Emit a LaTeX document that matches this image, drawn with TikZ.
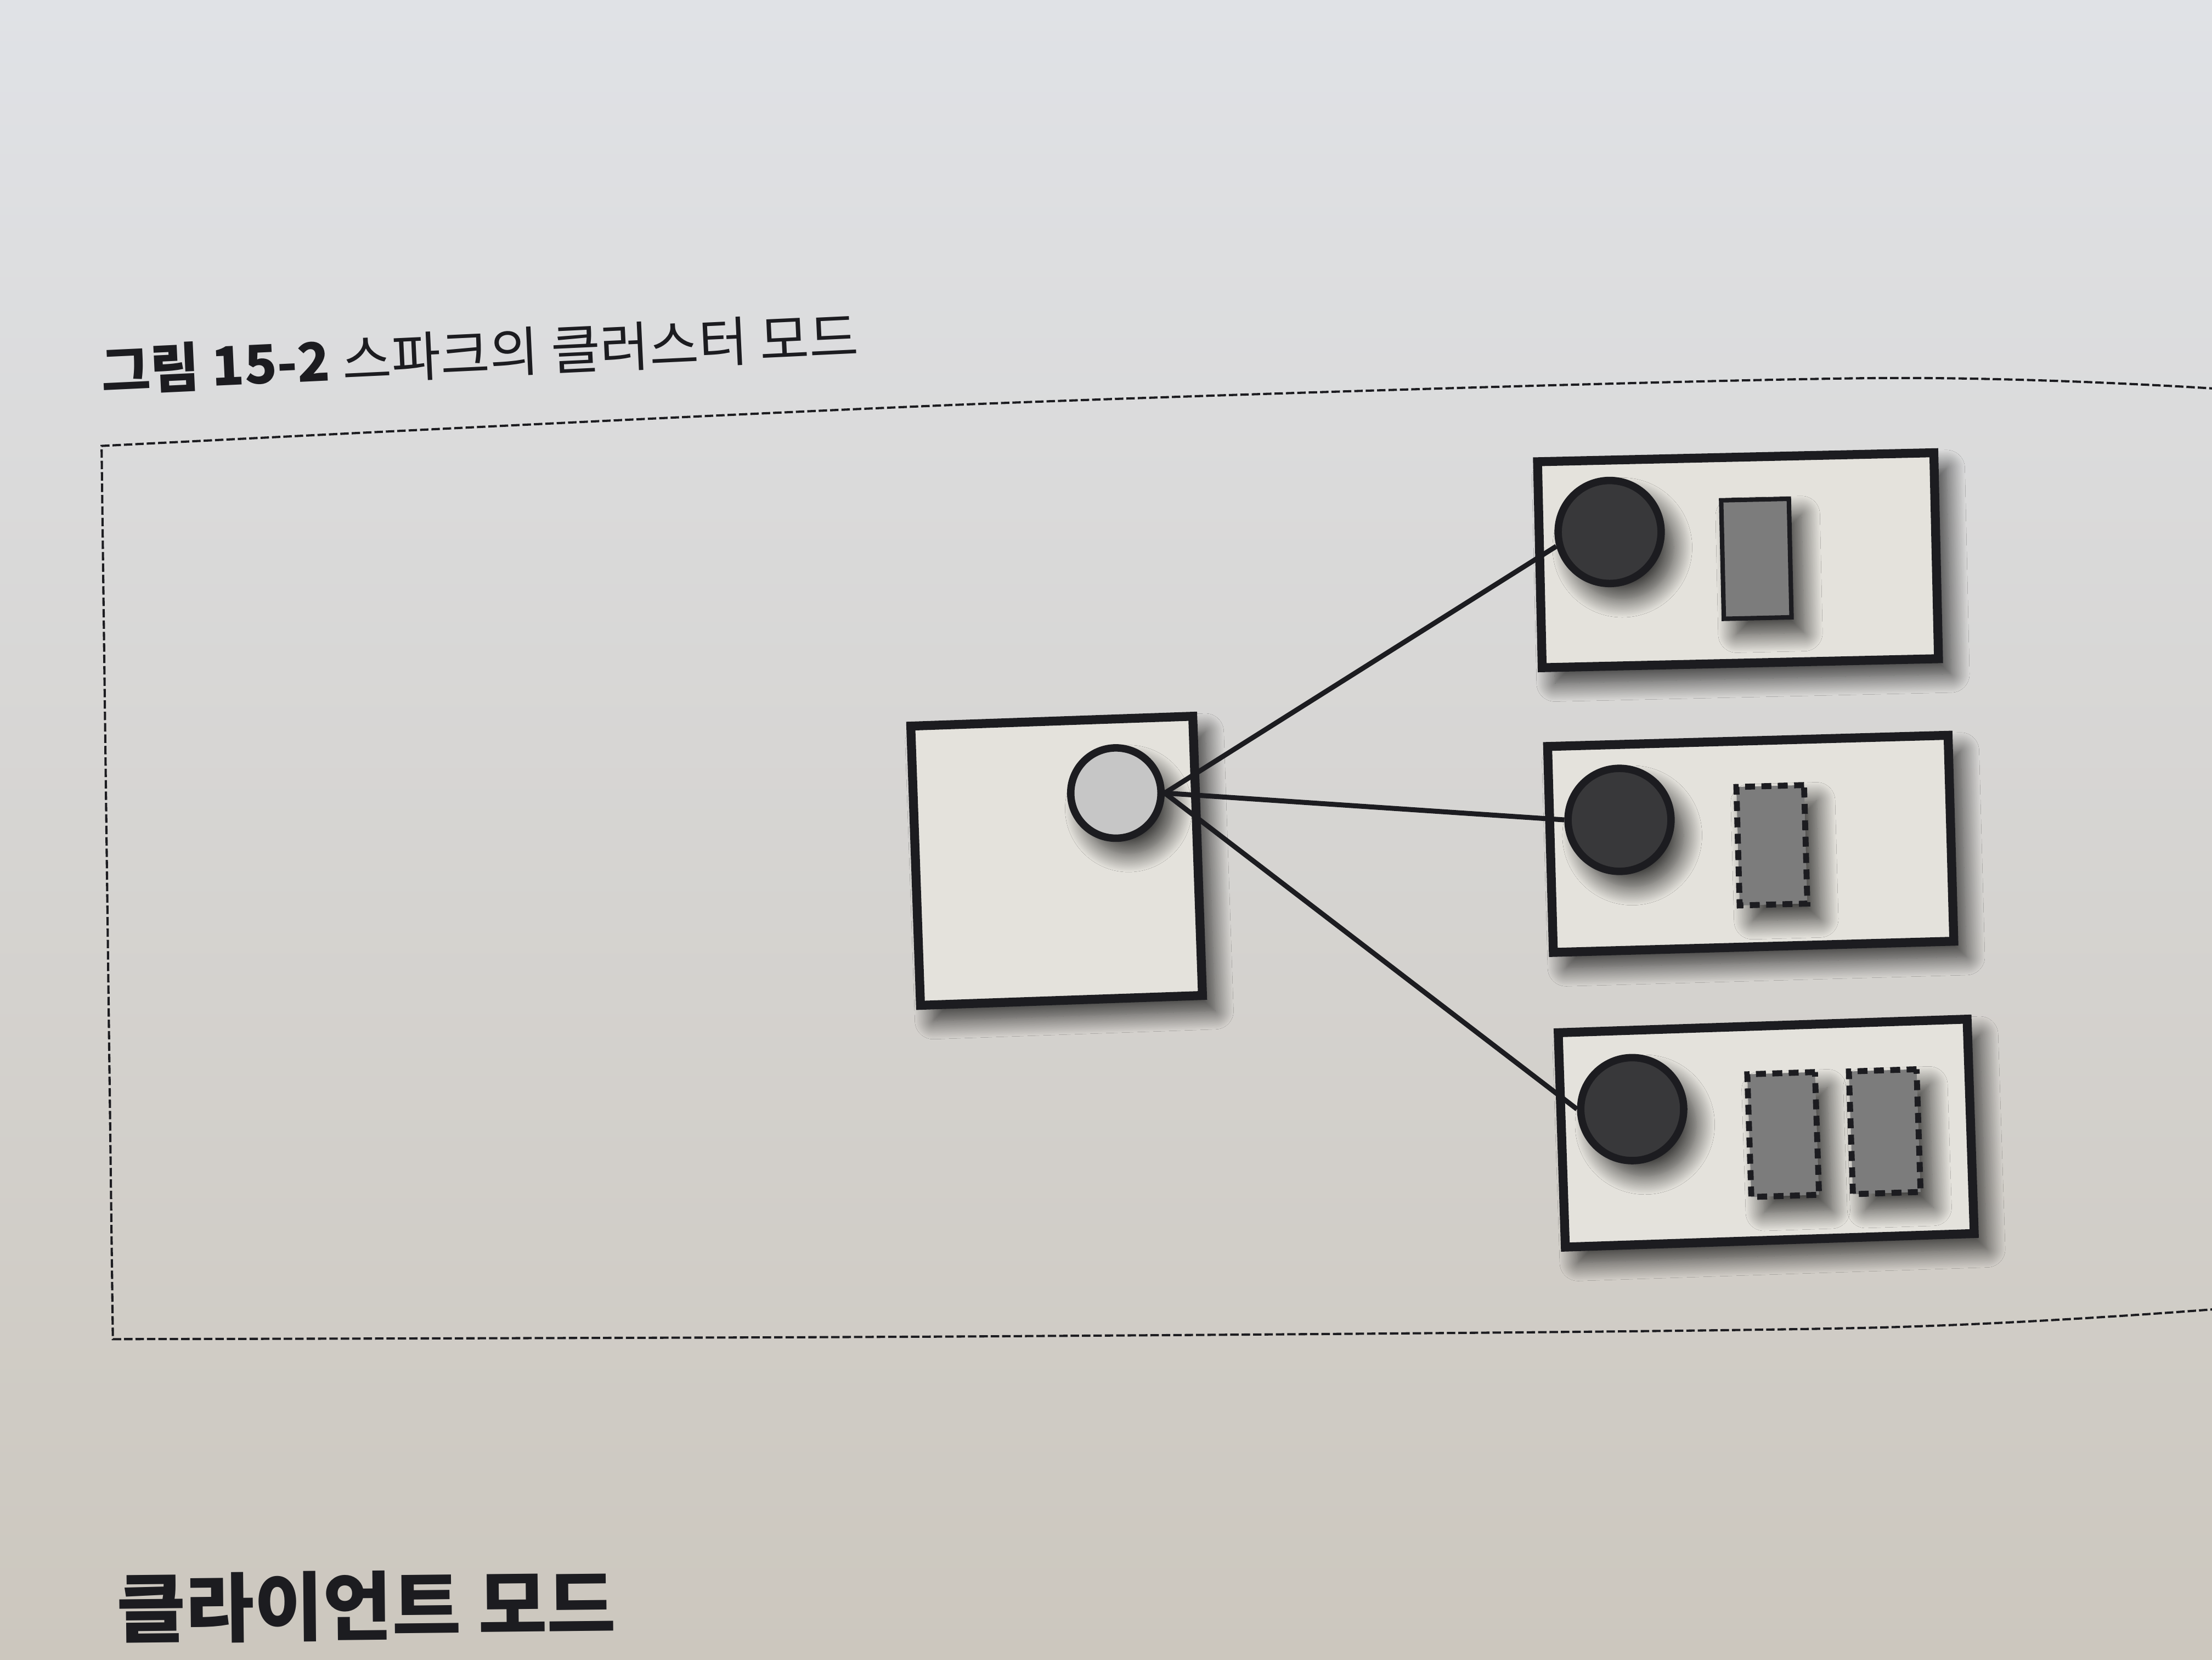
\documentclass[tikz,border=0pt]{standalone}
\usepackage{fontspec}
\newfontfamily\krfont{Noto Sans CJK KR}
\usetikzlibrary{shadows.blur}
\definecolor{paperTop}{HTML}{E0E2E6}
\definecolor{paperBot}{HTML}{CCC7BE}
\definecolor{ink}{HTML}{1C1C20}
\definecolor{boxfill}{HTML}{E4E2DC}
\definecolor{execfill}{HTML}{38383A}
\definecolor{drvfill}{HTML}{C6C6C6}
\definecolor{taskfill}{HTML}{7C7C7C}
\begin{document}
\begin{tikzpicture}[x=0.1mm, y=-0.1mm,
		soft/.style={blur shadow={shadow xshift=0.9mm, shadow yshift=-1.1mm, shadow blur radius=1.3mm, shadow blur steps=24, shadow opacity=75}},
		machine/.style={draw=ink, line width=1.8pt, fill=boxfill, inner sep=0, soft},
		executor/.style={circle, draw=ink, line width=1.5pt, fill=execfill, inner sep=0, minimum size=7.3mm, soft},
		task/.style={draw=ink, line width=0.9pt, fill=taskfill, inner sep=0, minimum width=4.8mm, minimum height=8.4mm, soft},
		dtask/.style={task, line width=1.2pt, dash pattern=on 2pt off 1.3pt},
		link/.style={draw=ink, line width=1pt},
		caption/.style={anchor=west, inner sep=0, text=ink}]
	\useasboundingbox (0,0) rectangle (1568,1176);
	\fill[top color=paperTop, bottom color=paperBot] (0,0) rectangle (1568,1176);
	\node[caption, rotate=2.7, font=\krfont\fontsize{10.8pt}{12pt}\selectfont] (fig) at (71,263) {\bfseries 그림 15-2 \mdseries 스파크의 클러스터 모드};
	\draw[ink, line width=0.45pt, dash pattern=on 1.7pt off 0.6pt] plot[smooth] coordinates {(1580,276) (1322,268) (700,286) (72,316)} -- (80,949) -- plot[smooth] coordinates {(80,949) (700,947) (1322,941) (1580,927)};
	\node[machine, minimum width=20mm, minimum height=19.8mm, rotate=2] (drvbox) at (749,610) {};
	\node[machine, minimum width=28.1mm, minimum height=14.6mm, rotate=1.3] (box1) at (1232,397) {};
	\node[machine, minimum width=28.4mm, minimum height=14.6mm, rotate=1.6] (box2) at (1241,598) {};
	\node[machine, minimum width=29mm, minimum height=15.2mm, rotate=1.9] (box3) at (1252,803) {};
	\node[executor, fill=drvfill, minimum size=6.4mm] (drv) at (791,562) {};
	\node[executor] (w1) at (1141,377) {};
	\node[executor] (w2) at (1148,581) {};
	\node[executor] (w3) at (1157,786) {};
	\node[task, rotate=1.3] (t1) at (1245,396) {};
	\node[dtask, rotate=1.6] (t2) at (1256,599) {};
	\node[dtask, rotate=1.9, minimum height=8.7mm] (t3) at (1264,804) {};
	\node[dtask, rotate=1.9, minimum height=8.7mm] (t4) at (1336,802) {};
	\draw[link] (drv.east) -- (w1.195);
	\draw[link] (drv.east) -- (w2.west);
	\draw[link] (drv.east) -- (w3.west);
	\node[caption, rotate=0.6, font=\krfont\fontsize{15.1pt}{18pt}\selectfont\bfseries] (head) at (82,1140) {클라이언트 모드};
\end{tikzpicture}
\end{document}
